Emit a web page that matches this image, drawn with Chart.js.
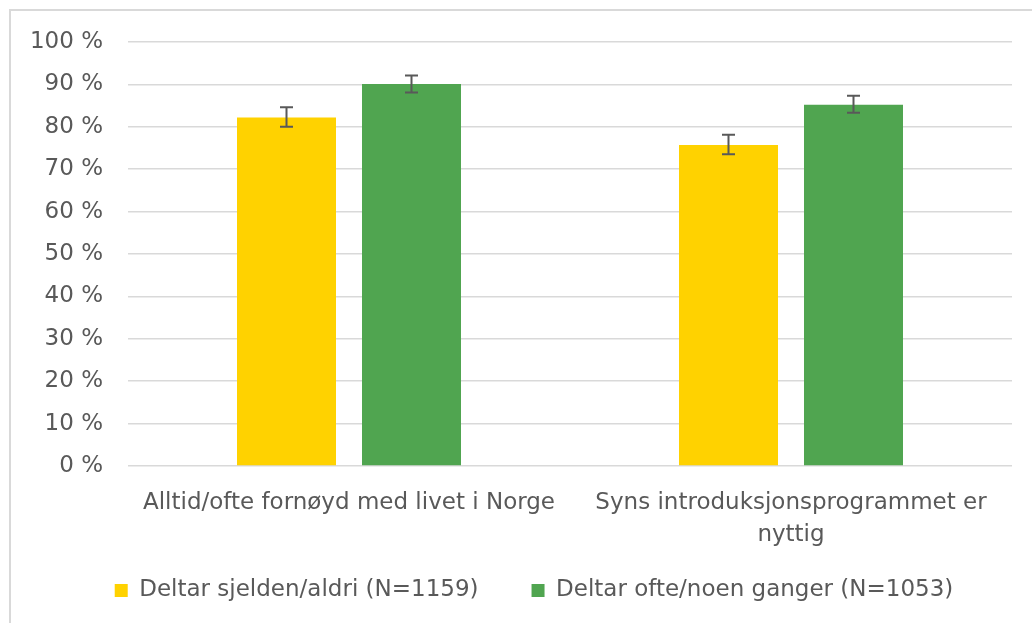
<!DOCTYPE html>
<html>
<head>
<meta charset="utf-8">
<script src="https://cdn.jsdelivr.net/npm/chart.js@4.4.0/dist/chart.umd.min.js"></script>
<style>
  html, body { margin: 0; padding: 0; background: #fff; }
  #wrap { position: relative; width: 1032px; height: 623px; overflow: hidden; }
  #frame { position: absolute; left: 9px; top: 9px; width: 1100px; height: 700px; border: 2px solid #d9d9d9; box-sizing: border-box; }
  canvas { position: absolute; left: 0; top: 0; }
</style>
</head>
<body>
<div id="wrap">
  <div id="frame"></div>
  <canvas id="c" width="1032" height="623"></canvas>
</div>
<script>
const categories = ["Alltid/ofte fornøyd med livet i Norge", ["Syns introduksjonsprogrammet er", "nyttig"]];
const seriesNames = ["Deltar sjelden/aldri (N=1159)", "Deltar ofte/noen ganger (N=1053)"];
const rarelyValues = [82.2, 75.7];
const oftenValues = [90.1, 85.2];
const rarelyLow = [80.0, 73.5];
const rarelyHigh = [84.6, 78.1];
const oftenLow = [88.1, 83.3];
const oftenHigh = [92.1, 87.3];
const yTicks = [0, 10, 20, 30, 40, 50, 60, 70, 80, 90, 100];

const FONT = "'DejaVu Sans', sans-serif";
const TEXT = '#595959';
const LEGEND_GAP = 53;

const errorBars = {
  id: 'errorBars',
  afterDatasetsDraw(chart) {
    const ctx = chart.ctx;
    const y = chart.scales.y;
    chart.data.datasets.forEach((ds, di) => {
      const meta = chart.getDatasetMeta(di);
      meta.data.forEach((bar, i) => {
        const lo = y.getPixelForValue(ds.errLow[i]);
        const hi = y.getPixelForValue(ds.errHigh[i]);
        const x = bar.x;
        ctx.save();
        ctx.strokeStyle = '#595959';
        ctx.lineWidth = 2;
        ctx.beginPath();
        ctx.moveTo(x, lo); ctx.lineTo(x, hi);
        ctx.moveTo(x - 6.5, lo); ctx.lineTo(x + 6.5, lo);
        ctx.moveTo(x - 6.5, hi); ctx.lineTo(x + 6.5, hi);
        ctx.stroke();
        ctx.restore();
      });
    });
  }
};

// keep the legend compact vertically while keeping wide horizontal spacing
const legendFix = {
  id: 'legendFix',
  afterInit(chart) {
    const lg = chart.legend;
    if (!lg) return;
    const origFit = lg.fit;
    lg.fit = function() { origFit.call(this); this.height = 57; };
    const origDraw = lg._draw;
    lg._draw = function() {
      const ctx = this.ctx;
      ctx.save();
      ctx.translate(28, -40);
      origDraw.apply(this, arguments);
      ctx.restore();
    };
  }
};

new Chart(document.getElementById('c'), {
  type: 'bar',
  data: {
    labels: categories,
    datasets: [
      { label: seriesNames[0], data: rarelyValues, errLow: rarelyLow, errHigh: rarelyHigh, backgroundColor: '#FFD200' },
      { label: seriesNames[1], data: oftenValues, errLow: oftenLow, errHigh: oftenHigh, backgroundColor: '#50A550' }
    ]
  },
  options: {
    responsive: false,
    animation: false,
    categoryPercentage: 0.5656,
    barPercentage: 0.792,
    layout: { padding: { top: 42, right: 20, bottom: 0, left: 0 } },
    plugins: {
      tooltip: { enabled: false },
      legend: {
        position: 'bottom',
        labels: {
          boxWidth: 13, boxHeight: 13, padding: LEGEND_GAP,
          color: TEXT,
          font: { family: FONT, size: 23 }
        }
      }
    },
    scales: {
      x: {
        grid: { display: false },
        border: { display: false },
        ticks: { color: TEXT, font: { family: FONT, size: 23, lineHeight: 1.4 }, padding: 13, maxRotation: 0, autoSkip: false },
        afterFit(s) { s.height = 100; }
      },
      y: {
        min: 0, max: 100,
        afterBuildTicks(s) { s.ticks = yTicks.map(v => ({ value: v })); },
        grid: { color: '#d9d9d9', lineWidth: 1.5, drawTicks: false },
        border: { display: false },
        ticks: { color: TEXT, font: { family: FONT, size: 23 }, padding: 25, callback: v => v + ' %' },
        afterFit(s) { s.width = 128; }
      }
    }
  },
  plugins: [errorBars, legendFix]
});
</script>
</body>
</html>
